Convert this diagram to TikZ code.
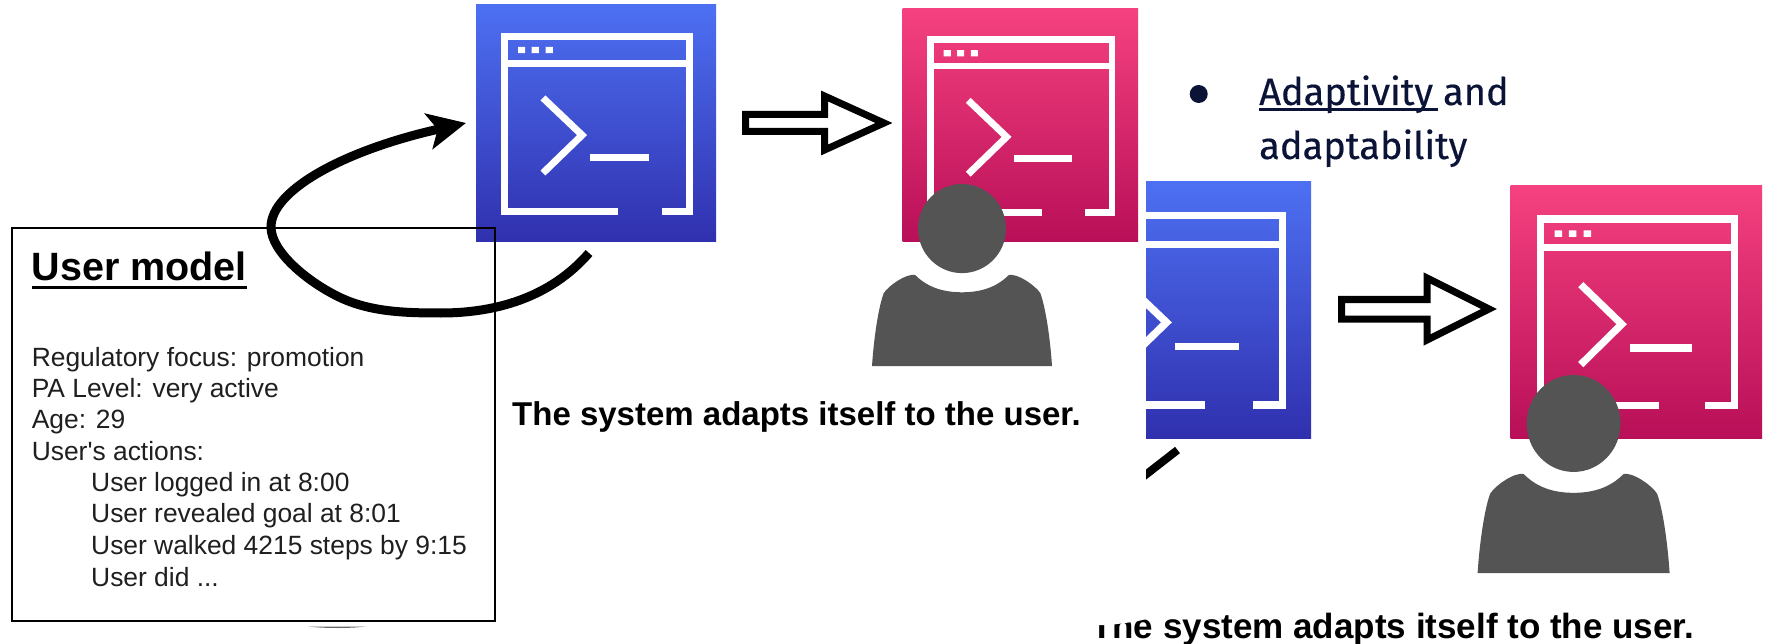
\documentclass[tikz,border=0pt]{standalone}
\usepackage{fontspec}
\setmainfont{Liberation Sans}
\newfontfamily\slidefont[FakeBold=0.35]{Fira Sans}
\usetikzlibrary{arrows.meta}
\definecolor{bluetop}{HTML}{4D70F2}
\definecolor{bluebot}{HTML}{3030AE}
\definecolor{pinktop}{HTML}{F5417F}
\definecolor{pinkbot}{HTML}{B80F58}
\definecolor{navy}{HTML}{0B1437}
\definecolor{persongray}{HTML}{545454}
\tikzset{
  winbg/.style={anchor=north west,inner sep=0pt,outer sep=0pt,draw=none,shade,shading angle=0},
  hollowarrow/.style={draw=black,fill=white,line width=7pt,line join=miter,miter limit=10},
  loopcurve/.style={draw=black,line width=9pt,line cap=butt},
  modelbox/.style={draw=black,line width=1.6pt},
  bodytext/.style={anchor=base west,inner sep=0pt,font=\fontsize{26.4}{31}\selectfont,text=black!88},
  captext/.style={anchor=base west,inner sep=0pt,font=\bfseries},
  slidetext/.style={anchor=base west,inner sep=0pt,text=navy,font=\slidefont\fontsize{38}{42}\selectfont},
}
% #1 name, #2 x0, #3 y0, #4 w, #5 h, #6 top colour, #7 bottom colour
\newcommand{\appwin}[7]{%
  \node[winbg,top color=#6,bottom color=#7,minimum width=#4pt,minimum height=#5pt] (#1) at (#2,#3) {};
  \begin{scope}[shift={(#2,#3)},x=#4pt,y=-#5pt,draw=white,line width=#4*0.029pt]
    \draw[line join=miter] (.592,.872) -- (.1185,.872) -- (.1185,.132) -- (.8895,.132) -- (.8895,.872) -- (.775,.872);
    \draw (.1185,.245) -- (.8895,.245);
    \fill[white] (.175,.177) rectangle (.205,.203) (.232,.177) rectangle (.262,.203) (.29,.177) rectangle (.32,.203);
    \draw[line join=miter] (.279,.392) -- (.442,.549) -- (.279,.709);
    \draw (.475,.643) -- (.721,.643);
  \end{scope}}
% #1 name, #2 cx, #3 top of head, #4 half width of body, #5 total height
\newcommand{\personicon}[5]{%
  \begin{scope}[shift={(#2,#3)},x=#4pt,y=-#5pt]
    \fill[persongray] (0,.2448) ellipse [x radius=.4889,y radius=.2448];
    \fill[persongray] (-1,1) .. controls (-.98,.85) and (-.93,.68) .. (-.87,.6)
      .. controls (-.82,.56) and (-.62,.49) .. (-.52,.5)
      .. controls (-.38,.57) and (-.2,.595) .. (0,.595)
      .. controls (.2,.595) and (.38,.57) .. (.52,.5)
      .. controls (.62,.49) and (.82,.56) .. (.87,.6)
      .. controls (.93,.68) and (.98,.85) .. (1,1) -- cycle;
    \coordinate (#1) at (0,1);
  \end{scope}}
\begin{document}
\begin{tikzpicture}[x=1pt,y=-1pt]
\useasboundingbox (0,0) rectangle (1769,644);
\fill[white] (0,0) rectangle (1769,644);
% second slide caption, partly covered
\node[captext,font=\bfseries\fontsize{35}{40}\selectfont] (capb) at (1091,638.2) {The system adapts itself to the user.};
\fill[white] (1080,595) -- (1153,595) -- (1153,617.5) -- (1136,621.5) -- (1110,625) -- (1080,625.5) -- cycle;
% first slide
\appwin{blueA}{476}{5}{240}{237}{bluetop}{bluebot}
\appwin{pinkA}{902.5}{9}{235.5}{233}{pinktop}{pinkbot}
\personicon{personA}{962}{184}{90}{182}
\path[hollowarrow] (745.5,114.5) -- (824.5,114.5) -- (824.5,96) -- (884,123) -- (824.5,150) -- (824.5,131.5) -- (745.5,131.5) -- cycle;
\node[captext,font=\bfseries\fontsize{33}{38}\selectfont] (capa) at (512,425) {The system adapts itself to the user.};
% user model
\node[modelbox,anchor=north west,minimum width=483pt,minimum height=393pt,inner sep=0pt] (model) at (11,227) {};
\node[anchor=base west,inner sep=0pt,font=\bfseries\fontsize{39.5}{44}\selectfont] (modeltitle) at (31.5,281) {User model};
\draw[line width=3pt] (modeltitle.base west)++(0,7) -- ++(215.5,0);
\node[bodytext] (l1) at (31.6,366) {Regulatory focus: promotion};
\node[bodytext] (l2) at (31.6,397.5) {PA Level: very active};
\node[bodytext] (l3) at (31.6,428.7) {Age: 29};
\node[bodytext] (l4) at (31.6,460) {User\textquotesingle s actions:};
\node[bodytext] (l5) at (91,491) {User logged in at 8:00};
\node[bodytext] (l6) at (91,522.7) {User revealed goal at 8:01};
\node[bodytext] (l7) at (91,554) {User walked 4215 steps by 9:15};
\node[bodytext] (l8) at (91,586) {User did ...};
% loop arrow
\coordinate (loopstart) at (589,253);
\coordinate (looptip) at (466,123);
\draw[loopcurve,-{Stealth[length=38pt,width=36pt,inset=9pt]}] (loopstart)
  .. controls (550,298) and (495,313) .. (441,313)
  .. controls (405,313) and (370,312) .. (339,297)
  .. controls (308,282) and (271,252) .. (271,227)
  .. controls (271,190) and (345,150) .. (looptip);
% sliver under the box
\fill[black!60] (308,626.5) .. controls (325,628.5) and (350,628.5) .. (366,626.5) -- cycle;
% bullet text
\fill[navy] (1198.7,94) circle (9);
\node[slidetext] (adapt) at (1259,105) {Adaptivity and};
\draw[navy,line width=3.5pt] (adapt.base west)++(0,4.5) -- ++(179,0);
\node[slidetext] (adaptb) at (1259,159) {adaptability};
% second slide
\begin{scope}
  \clip (1146,170) rectangle (1320,500);
  \appwin{blueB}{1052}{181.7}{259}{256.3}{bluetop}{bluebot}
  \coordinate (stubA) at (1177.5,450);
  \coordinate (stubB) at (1130,487);
  \draw[black,line width=8pt] (stubA) -- (stubB);
\end{scope}
\appwin{pinkB}{1510.6}{185.7}{251.4}{252.3}{pinktop}{pinkbot}
\personicon{personB}{1573.6}{375}{96}{198}
\path[hollowarrow] (1341.5,299.5) -- (1427,299.5) -- (1427,278) -- (1489,309) -- (1427,340) -- (1427,319) -- (1341.5,319) -- cycle;
\end{tikzpicture}
\end{document}
